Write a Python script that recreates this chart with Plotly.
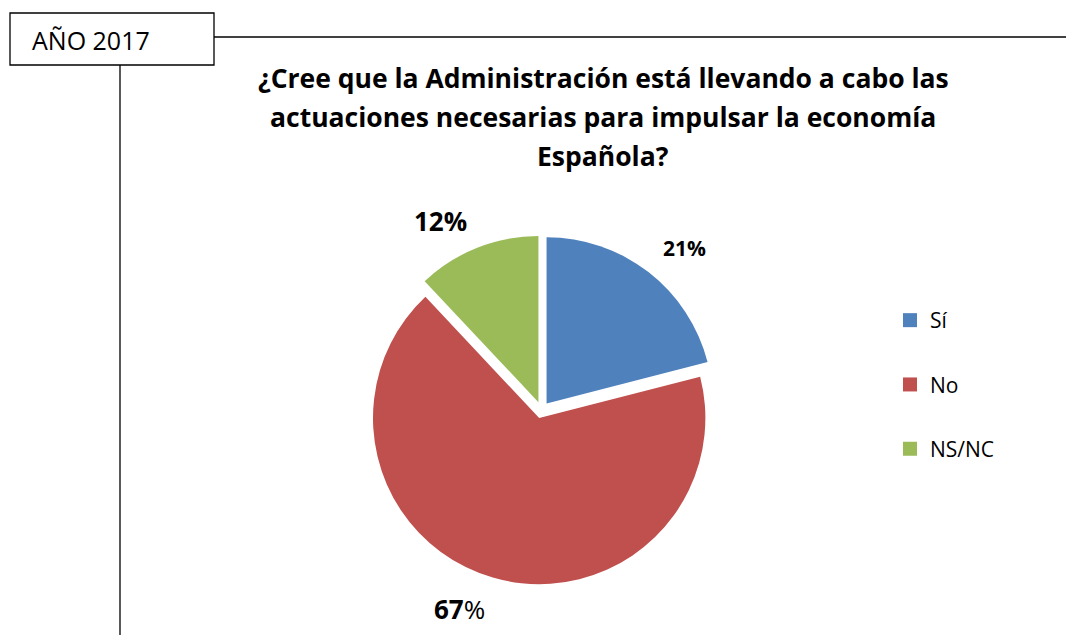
import plotly.graph_objects as go

W, H = 1074, 635
OFF = 8  # the page body adds an 8px margin; axes below are set up in screen pixels

labels = ["Sí", "No", "NS/NC"]
values = [21, 67, 12]
colors = ["#4F81BD", "#C0504D", "#9BBB59"]
title_lines = [
    "¿Cree que la Administración está llevando a cabo las",
    "actuaciones necesarias para impulsar la economía",
    "Española?",
]
year_label = "AÑO 2017"

FONT = "Open Sans, Calibri, sans-serif"

# percentage label placement (screen px), sizes and styles per slice
label_xy = [(684, 248), (459, 609), (440, 221)]
label_sizes = [21, 26, 26]
label_fmt = ["<b>{}%</b>", "<b>{}</b>%", "<b>{}%</b>"]

# pie centre ~(541, 410) px, radius 166 px, pull 0.05
cx, cy, half = 541.5, 410, 174.5


def px(x):
    return (x - OFF) / W


def py(y):
    return 1 - (y - OFF) / H


fig = go.Figure()
fig.add_trace(go.Pie(
    labels=labels,
    values=values,
    sort=False,
    direction="clockwise",
    rotation=0,
    pull=[0.05, 0.05, 0.05],
    marker=dict(colors=colors, line=dict(width=0)),
    textinfo="none",
    hoverinfo="label+percent",
    showlegend=False,
    domain=dict(x=[px(cx - half), px(cx + half)], y=[py(cy + half), py(cy - half)]),
))

# legend entries as dummy traces so the vertical spacing can be opened up
for i, (lab, col) in enumerate(zip(labels, colors)):
    fig.add_trace(go.Scatter(
        x=[None], y=[None], mode="markers", name=lab,
        marker=dict(symbol="square", size=14, color=col),
        legendgroup=f"g{i}", showlegend=True,
    ))

shapes = [
    dict(type="rect", x0=10, x1=214, y0=13, y1=65, line=dict(color="black", width=1.3)),
    dict(type="line", x0=214, x1=W, y0=37, y1=37, line=dict(color="black", width=1.3)),
    dict(type="line", x0=120, x1=120, y0=65, y1=H, line=dict(color="black", width=1.3)),
]

annotations = [dict(x=30, y=40, text=year_label, showarrow=False, xanchor="left", yanchor="middle",
                    font=dict(family=FONT, size=25, color="black"))]
for k, line in enumerate(title_lines):
    annotations.append(dict(x=603, y=78 + 39 * k, text=f"<b>{line}</b>", showarrow=False,
                            xanchor="center", yanchor="middle",
                            font=dict(family=FONT, size=26.5, color="black")))
for v, (lx, ly), sz, fmt in zip(values, label_xy, label_sizes, label_fmt):
    annotations.append(dict(x=lx, y=ly, text=fmt.format(v), showarrow=False,
                            xanchor="center", yanchor="middle",
                            font=dict(family=FONT, size=sz, color="black")))

fig.update_layout(
    width=W, height=H,
    margin=dict(l=0, r=0, t=0, b=0),
    paper_bgcolor="white", plot_bgcolor="white",
    xaxis=dict(range=[OFF, W + OFF], visible=False, domain=[0, 1], fixedrange=True),
    yaxis=dict(range=[H + OFF, OFF], visible=False, domain=[0, 1], fixedrange=True),
    shapes=[dict(s, xref="x", yref="y") for s in shapes],
    annotations=[dict(a, xref="x", yref="y") for a in annotations],
    legend=dict(x=px(890), y=py(300), xanchor="left", yanchor="top",
                font=dict(family=FONT, size=21, color="black"),
                tracegroupgap=34, itemwidth=30, bgcolor="rgba(0,0,0,0)"),
)

fig.write_html("out.html")
